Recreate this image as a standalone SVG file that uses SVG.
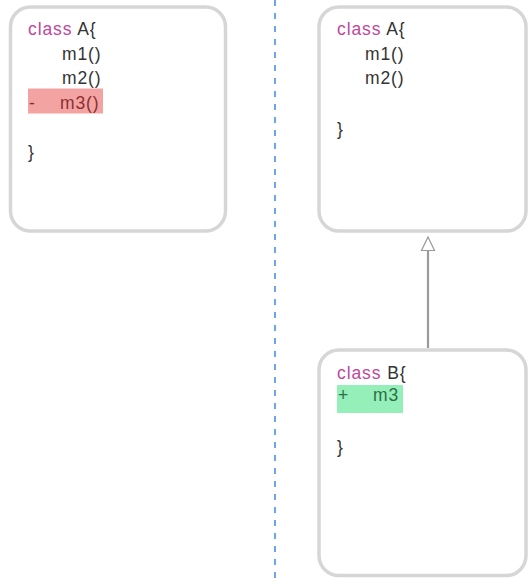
<svg xmlns="http://www.w3.org/2000/svg" width="528" height="581" viewBox="0 0 528 581">
<style>
.box{fill:#fff;stroke:#d6d6d6;stroke-width:3.5}
text{font-family:"Liberation Sans",Arial,sans-serif;font-size:17.5px;letter-spacing:0.9px;fill:#333}
.kw{fill:#c0479b}
.del{fill:#f4a3a3}
.delt{fill:#8a3030}
.add{fill:#94efb8}
.addt{fill:#2d6e48}
.conn{stroke:#9e9898;stroke-width:2.2;fill:none}
</style>
<rect width="528" height="581" fill="#fff"/>
<line x1="275" y1="0" x2="275" y2="581" stroke="#4a8fe8" stroke-width="1.6" stroke-dasharray="6 7"/>
<g id="nodeA-left">
<rect class="box" x="10.5" y="7" width="215" height="224" rx="20"/>
<rect class="del" x="28" y="88.5" width="75" height="25"/>
<text x="28" y="35"><tspan class="kw">class</tspan> A{</text>
<text x="62" y="59.5">m1()</text>
<text x="62" y="84">m2()</text>
<text x="29" y="108.5" class="delt">-</text>
<text x="60" y="108.5" class="delt">m3()</text>
<text x="28" y="157.5">}</text>
</g>
<g id="nodeA-right">
<rect class="box" x="319" y="7" width="207" height="224" rx="20"/>
<text x="337" y="35"><tspan class="kw">class</tspan> A{</text>
<text x="365" y="59.5">m1()</text>
<text x="365" y="84">m2()</text>
<text x="337" y="135">}</text>
</g>
<g id="nodeB">
<rect class="box" x="319" y="350" width="207" height="225.5" rx="20"/>
<rect class="add" x="337" y="385" width="66" height="28"/>
<text x="337" y="378.5"><tspan class="kw">class</tspan> B{</text>
<text x="338" y="401" class="addt">+</text>
<text x="373" y="401" class="addt">m3</text>
<text x="337" y="452.5">}</text>
</g>
<g id="connectors">
<line class="conn" x1="428" y1="348" x2="428" y2="250.5"/>
<polygon points="428,237 434.5,250.5 421.5,250.5" fill="#fff" stroke="#9e9898" stroke-width="1.2"/>
</g>
</svg>
